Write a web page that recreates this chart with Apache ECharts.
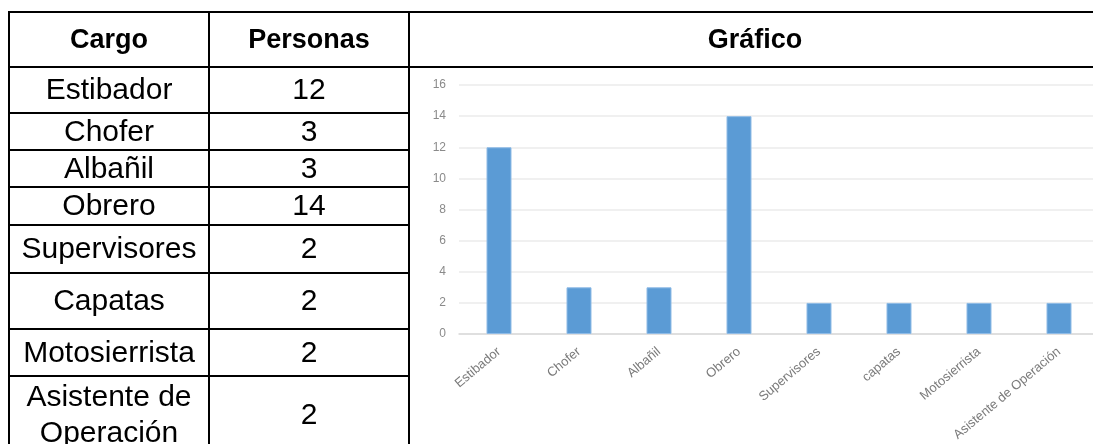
<!DOCTYPE html>
<html>
<head>
<meta charset="utf-8">
<script src="https://cdn.jsdelivr.net/npm/echarts@6/dist/echarts.min.js"></script>
<style>
  html, body { margin: 0; padding: 0; background: #ffffff; }
  #table { position: absolute; left: 0; top: 0; width: 1093px; height: 444px; }
  #chart { position: absolute; left: 0; top: 0; width: 1093px; height: 444px; filter: blur(0.5px); }
</style>
</head>
<body>
<div id="table"></div>
<div id="chart"></div>
<script>
// Table contents
const headers = ['Cargo', 'Personas', 'Gráfico'];
const cargos = ['Estibador', 'Chofer', 'Albañil', 'Obrero', 'Supervisores', 'Capatas', 'Motosierrista', 'Asistente de\nOperación'];
const personas = [12, 3, 3, 14, 2, 2, 2, 2];

// Bar chart contents
const chartCategories = ['Estibador', 'Chofer', 'Albañil', 'Obrero', 'Supervisores', 'capatas', 'Motosierrista', 'Asistente de Operación'];
const chartValues = [12, 3, 3, 14, 2, 2, 2, 2];
const yMin = 0, yMax = 16, yStep = 2;

// Table layout (column edges and row edges in px)
const colX = [9, 209, 409, 1101];
const rowY = [12, 67, 113, 150, 187, 225, 273, 329, 376, 454];
const FONT = '"Liberation Sans", Arial, sans-serif';

const elements = [];
const line = (x1, y1, x2, y2) => elements.push({
  type: 'line', shape: { x1, y1, x2, y2 },
  style: { stroke: '#000', lineWidth: 2 }, silent: true
});
const text = (t, x, y, size, weight) => elements.push({
  type: 'text', x, y, silent: true,
  style: {
    text: t, fill: '#000', font: weight + ' ' + size + 'px ' + FONT,
    align: 'center', verticalAlign: 'middle', lineHeight: 36
  }
});

// Outer and header rules span the whole table width
line(colX[0] - 1, rowY[0], colX[3], rowY[0]);
line(colX[0] - 1, rowY[1], colX[3], rowY[1]);
// Body row rules only under the first two columns (chart cell spans all rows)
for (let i = 2; i < rowY.length; i++) line(colX[0] - 1, rowY[i], colX[2] + 1, rowY[i]);
// Vertical rules
for (let c = 0; c < 3; c++) line(colX[c], rowY[0] - 1, colX[c], rowY[rowY.length - 1]);

// Header texts
const hy = (rowY[0] + rowY[1]) / 2;
headers.forEach((h, i) => text(h, (colX[i] + colX[i + 1]) / 2, hy + 1, 27, 'bold'));

// Body texts
cargos.forEach((c, i) => {
  const cy = (rowY[i + 1] + rowY[i + 2]) / 2 + 1;
  text(c, (colX[0] + colX[1]) / 2, cy, 30, 'normal');
  text(String(personas[i]), (colX[1] + colX[2]) / 2, cy, 30, 'normal');
});

const tableChart = echarts.init(document.getElementById('table'), null, { renderer: 'canvas' });
tableChart.setOption({ animation: false, graphic: { elements } });

// Column chart in the "Gráfico" cell
const chart = echarts.init(document.getElementById('chart'), null, { renderer: 'canvas' });
chart.setOption({
  animation: false,
  grid: {
    left: 459, top: 85, width: 640, height: 249,
    containLabel: false, outerBoundsMode: 'none'
  },
  xAxis: {
    type: 'category',
    data: chartCategories,
    axisLine: { lineStyle: { color: '#d9d9d9', width: 1.5 } },
    axisTick: { show: false },
    axisLabel: {
      interval: 0, rotate: 40, margin: 16,
      fontFamily: FONT, fontSize: 13, color: '#7a7a7a'
    }
  },
  yAxis: {
    type: 'value',
    min: yMin, max: yMax, interval: yStep,
    axisLine: { show: false },
    axisTick: { show: false },
    splitLine: { lineStyle: { color: '#ebebeb', width: 1.5 } },
    axisLabel: { margin: 13, fontFamily: FONT, fontSize: 12, color: '#8a8a8a' }
  },
  series: [{
    type: 'bar',
    data: chartValues,
    barWidth: 25,
    itemStyle: { color: '#5b9bd5', borderColor: '#8fbbe6', borderWidth: 1 }
  }]
});
</script>
</body>
</html>
